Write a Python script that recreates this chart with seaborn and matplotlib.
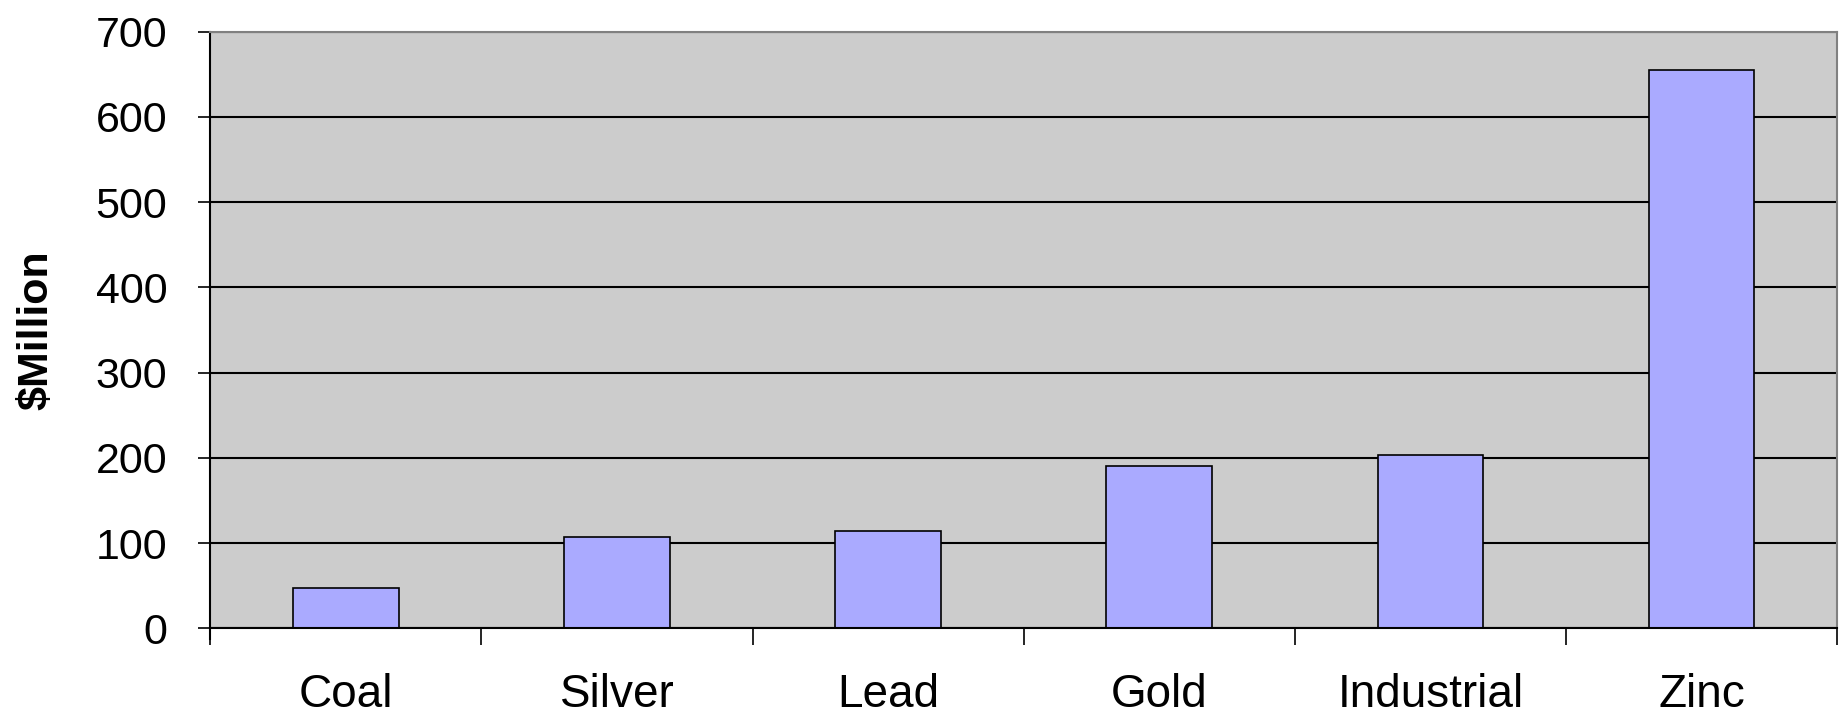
import numpy as np
import matplotlib
matplotlib.use("Agg")
import matplotlib.pyplot as plt
import seaborn as sns

# Data
categories = ["Coal", "Silver", "Lead", "Gold", "Industrial", "Zinc"]
values = [47, 107, 114, 191, 204, 655]
y_ticks = [0, 100, 200, 300, 400, 500, 600, 700]

sns.set_style("white")
plt.rcParams['font.family'] = ['Liberation Sans', 'DejaVu Sans']

fig, ax = plt.subplots(figsize=(18.45, 7.17), dpi=100)
fig.subplots_adjust(left=0.114, right=0.9957, top=0.9557, bottom=0.1236)

sns.barplot(x=categories, y=values, color="#AAAAFF", saturation=1, width=0.39,
            edgecolor="black", linewidth=1.2, ax=ax)

ax.set_facecolor("#CCCCCC")
ax.set_ylim(0, 700)
ax.set_xlim(-0.5, len(categories) - 0.5)
ax.set_yticks(y_ticks)
ax.set_yticklabels([str(t) for t in y_ticks], fontsize=31, color="black")

# horizontal gridlines, behind bars
ax.set_axisbelow(True)
ax.yaxis.grid(True, color="black", linewidth=1.5)
ax.xaxis.grid(False)

# labels in the middle, tick marks at category boundaries
ax.set_xticks(range(len(categories)))
ax.set_xticklabels(categories, fontsize=33, color="black")
ax.set_xticks(np.arange(-0.5, len(categories), 1), minor=True)
ax.tick_params(axis="x", which="major", length=0, pad=32)
ax.tick_params(axis="x", which="minor", bottom=True, length=12, width=1.2,
               color="black", direction="out")
ax.tick_params(axis="y", length=9, width=1.2, color="black", direction="out", pad=22, left=True)

ax.set_xlabel("")
ax.set_ylabel("$Million", fontsize=31, fontweight="bold", labelpad=28, color="black")

# spines: black left/bottom, gray top/right
for side in ["left", "bottom"]:
    ax.spines[side].set_color("black")
    ax.spines[side].set_linewidth(1.5)
for side in ["top", "right"]:
    ax.spines[side].set_color("#808080")
    ax.spines[side].set_linewidth(1.5)
ax.spines["left"].set_bounds(-12, 700)

plt.savefig("out.png", dpi=100)
